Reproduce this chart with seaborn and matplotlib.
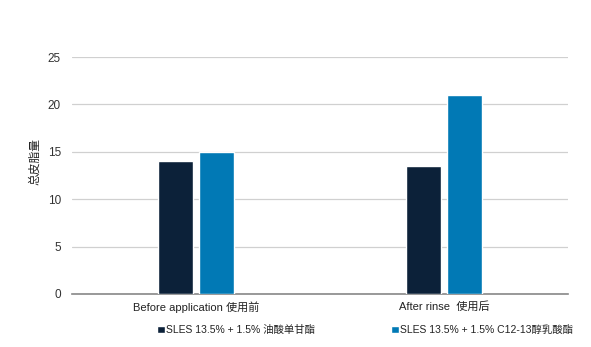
import matplotlib
matplotlib.use("Agg")
import matplotlib.pyplot as plt
import seaborn as sns
import pandas as pd

categories = ["Before application 使用前", "After rinse  使用后"]
series_names = ["SLES 13.5% + 1.5% 油酸单甘酯", "SLES 13.5% + 1.5% C12-13醇乳酸酯"]
series_a = [14.0, 13.5]
series_b = [15.0, 21.0]
y_ticks = [0, 5, 10, 15, 20, 25]
y_label = "总皮脂量"

colors = ["#0c2139", "#0179b5"]

sns.set_theme(style="white")
fam = ["Liberation Sans", "Noto Sans CJK SC", "DejaVu Sans"]
plt.rcParams["font.family"] = fam

df = pd.DataFrame({
    "cat": categories * 2,
    "series": [series_names[0]] * 2 + [series_names[1]] * 2,
    "value": series_a + series_b,
})

fig = plt.figure(figsize=(5.91, 3.47), dpi=100)
ax = fig.add_axes([72 / 591, 1 - 294 / 347, (568 - 72) / 591, (294 - 57) / 347])

sns.barplot(data=df, x="cat", y="value", hue="series", order=categories,
            hue_order=series_names, palette=colors, width=0.33, gap=0.15,
            saturation=1, ax=ax, legend=True, zorder=3)

ax.set_ylim(0, 25)
ax.set_xlim(-0.5, 1.5)
ax.set_yticks(y_ticks)
ax.yaxis.grid(True, color="#d0d0d0", linewidth=0.9, zorder=0)
ax.set_axisbelow(True)
for s in ["top", "right", "left"]:
    ax.spines[s].set_visible(False)
ax.spines["bottom"].set_color("#888888")
ax.spines["bottom"].set_linewidth(1.2)
ax.tick_params(axis="y", length=0, labelsize=8.5, labelcolor="#333333", pad=8)
ax.tick_params(axis="x", length=0, labelsize=8, labelcolor="#222222", pad=5)
ax.set_xlabel("")
ax.set_ylabel(y_label, fontsize=8.5, color="#222222")
ax.yaxis.set_label_coords(-0.062, 0.56)

leg = ax.get_legend()
handles = leg.legend_handles
leg.remove()
fig.legend(handles, series_names, loc="center", bbox_to_anchor=(0.618, 1 - 330 / 347),
           ncol=2, frameon=False, fontsize=7.5, handlelength=0.7, handleheight=0.7,
           handletextpad=0.15, columnspacing=7.3, labelcolor="#222222")

fig.savefig("out.png", dpi=100)
